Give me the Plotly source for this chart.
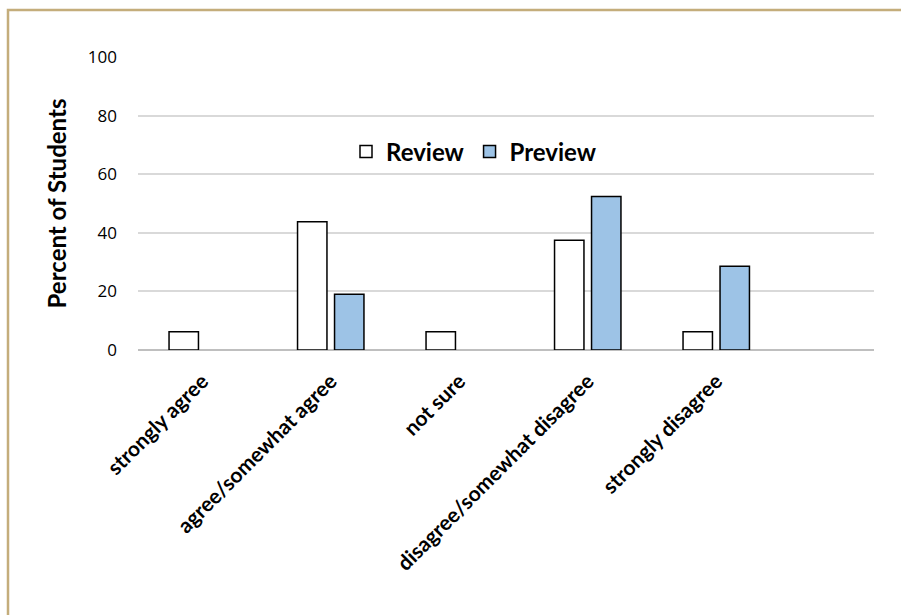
import plotly.graph_objects as go

categories = ["strongly agree", "agree/somewhat agree", "not sure",
              "disagree/somewhat disagree", "strongly disagree"]
review = [6.25, 43.75, 6.25, 37.5, 6.25]
preview = [None, 19.05, None, 52.38, 28.57]
y_ticks = [0, 20, 40, 60, 80, 100]

fig = go.Figure()
fig.add_trace(go.Bar(name="Review", x=categories, y=review,
                     marker=dict(color="white", line=dict(color="black", width=1.5))))
fig.add_trace(go.Bar(name="Preview", x=categories, y=preview,
                     marker=dict(color="#9DC3E6", line=dict(color="black", width=1.5))))

W, H = 901, 615
L, R, T, B = 138, 27, 57, 265
pw, ph = W - L - R, H - T - B

fig.update_layout(
    width=W, height=H,
    margin=dict(l=L, r=R, t=T, b=B, pad=0),
    paper_bgcolor="white", plot_bgcolor="white",
    barmode="group", bargap=0.424, bargroupgap=0.205,
    font=dict(family="Lato, Open Sans, sans-serif", color="black"),
    legend=dict(orientation="h", x=(474 - L) / pw, y=(350 - 152) / ph,
                xanchor="center", yanchor="middle",
                font=dict(size=24, weight="bold", color="black"),
                bgcolor="rgba(0,0,0,0)", itemwidth=30, tracegroupgap=0),
    xaxis=dict(type="category", range=[-0.5, -0.5 + pw / 128.5],
               tickangle=-45, tickfont=dict(size=21, weight="bold"),
               ticklabelstandoff=14,
               showgrid=False, showline=False, ticks="", zeroline=False),
    yaxis=dict(range=[0, 100], tickvals=y_ticks, ticktext=[str(v) for v in y_ticks],
               tickfont=dict(size=17, family="Open Sans, sans-serif"),
               showgrid=True, gridcolor="#D9D9D9", gridwidth=1.5,
               zeroline=True, zerolinecolor="#BFBFBF", zerolinewidth=1.5,
               ticks="", ticklabelstandoff=20,
               title=dict(text="Percent of Students", standoff=14,
                          font=dict(size=24, weight="bold"))),
    shapes=[dict(type="rect", xref="paper", yref="paper",
                 x0=(8 - L) / pw, x1=(1000 - L) / pw,
                 y0=(350 - 700) / ph, y1=(350 - 10) / ph,
                 line=dict(color="#C4AD7B", width=2.5), fillcolor="rgba(0,0,0,0)",
                 layer="below")],
)

fig.write_html("out.html")
